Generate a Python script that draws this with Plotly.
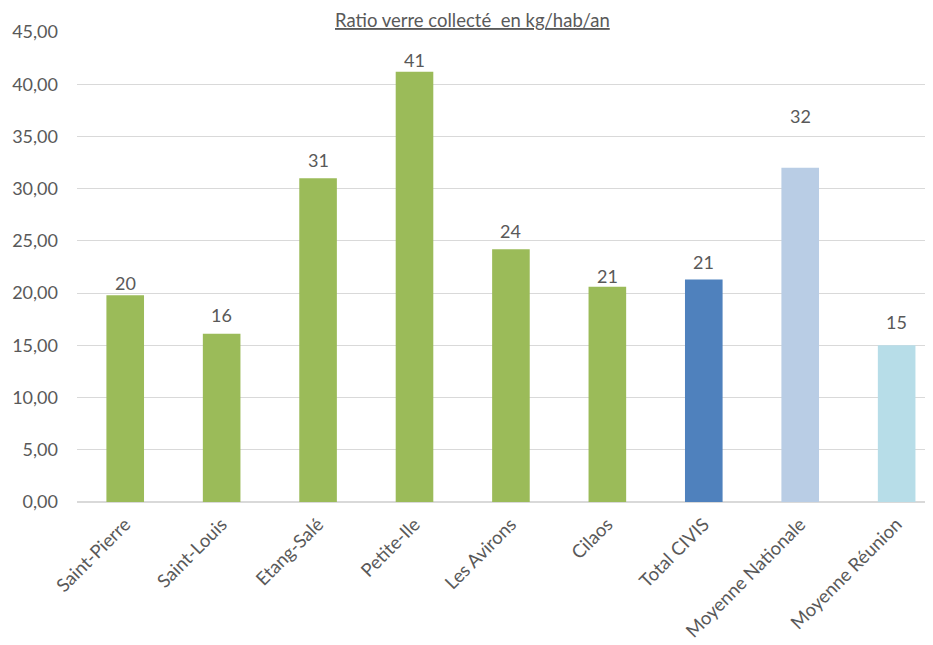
import plotly.graph_objects as go

categories = ["Saint-Pierre", "Saint-Louis", "Etang-Salé", "Petite-Ile", "Les Avirons",
              "Cilaos", "Total CIVIS", "Moyenne Nationale", "Moyenne Réunion"]
values = [19.8, 16.1, 31.0, 41.2, 24.2, 20.6, 21.3, 32.0, 15.0]
labels = ["20", "16", "31", "41", "24", "21", "21", "32", "15"]
colors = ["#9BBB59"] * 6 + ["#4F81BD", "#B9CDE5", "#B7DDE8"]
label_shift = [11, 18, 17, 11, 17, 10, 17, 51, 22]
yticks = [0, 5, 10, 15, 20, 25, 30, 35, 40, 45]
ytick_text = ["0,00", "5,00", "10,00", "15,00", "20,00", "25,00", "30,00", "35,00", "40,00", "45,00"]
title = "Ratio verre collecté  en kg/hab/an"

FONT = "Lato, Calibri, Carlito, sans-serif"
GREY = "#595959"

fig = go.Figure()
fig.add_trace(go.Bar(x=categories, y=values, marker=dict(color=colors, line=dict(width=0)),
                     width=0.39, hoverinfo="x+y"))

for c, v, t, s in zip(categories, values, labels, label_shift):
    fig.add_annotation(x=c, y=v, text=t, showarrow=False, yanchor="bottom", yshift=s - 12,
                       font=dict(family=FONT, size=18, color=GREY))

fig.add_annotation(x=0.458, xref="paper", y=1.0, yref="paper", yanchor="bottom", yshift=-1,
                   text="<u>" + title + "</u>", showarrow=False,
                   font=dict(family=FONT, size=18.5, color=GREY))

fig.update_layout(
    width=933, height=645,
    margin=dict(l=69, r=0, t=24, b=151),
    plot_bgcolor="white", paper_bgcolor="white",
    showlegend=False,
    font=dict(family=FONT, color=GREY),
    xaxis=dict(range=[-0.5, 8.46], tickangle=-45, tickfont=dict(size=18.5, color=GREY),
               showgrid=False, showline=False, ticks="", fixedrange=True,
               ticklabelstandoff=7),
    yaxis=dict(range=[0, 45], tickvals=yticks, ticktext=ytick_text,
               tickfont=dict(size=18, color=GREY), gridcolor="#D9D9D9", gridwidth=1.3,
               zeroline=True, zerolinecolor="#D9D9D9", zerolinewidth=1.5,
               showline=False, ticks="", ticklabelstandoff=18),
)

fig.write_html("out.html")
